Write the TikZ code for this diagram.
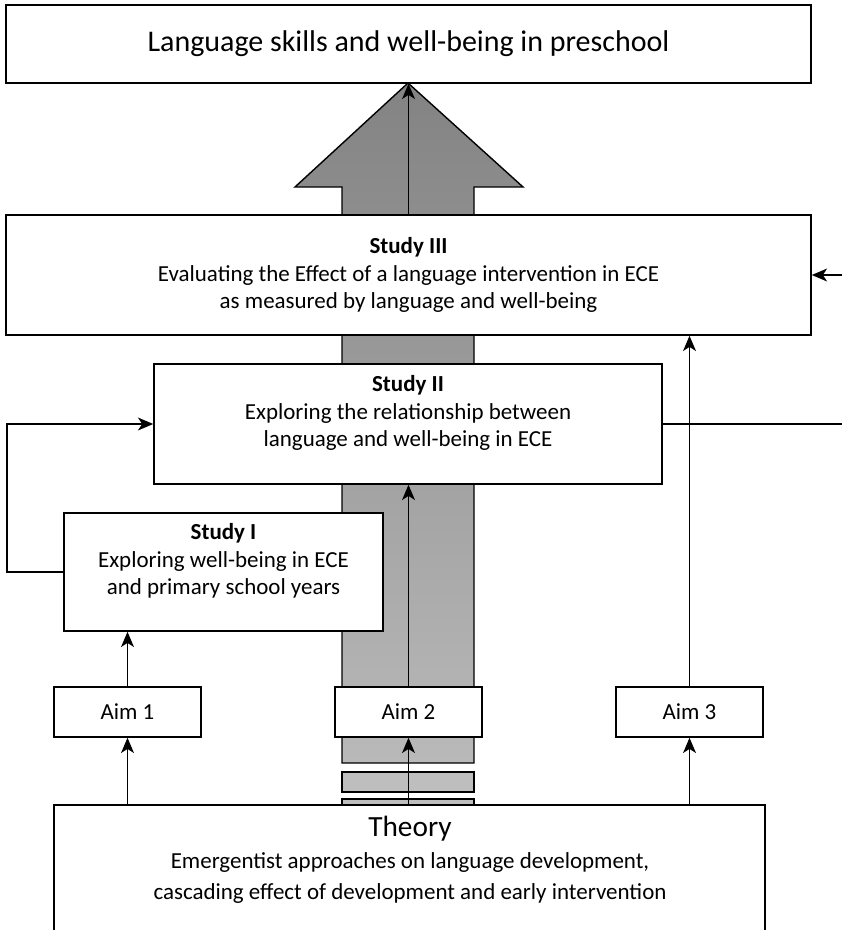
\documentclass[tikz,border=0pt]{standalone}
\usepackage{fontspec}
\setmainfont{Carlito}
\usetikzlibrary{arrows.meta}
\definecolor{headgray}{HTML}{838383}
\definecolor{shaftgray}{HTML}{B9B9B9}
\definecolor{stripegray}{HTML}{BEBEBE}

\begin{document}
\begin{tikzpicture}[x=0.03cm,y=-0.03cm,
            box/.style={draw,fill=white,line width=1.3pt,inner sep=0pt,align=center,font=\fontsize{19.6}{23.5}\selectfont},
            wide/.style={box,minimum width=24.15cm,minimum height=3.6cm},
            aimbox/.style={box,minimum width=4.41cm,minimum height=1.5cm},
            arr/.style={line width=1.3pt,-{Stealth[length=13pt,width=11pt,inset=3.5pt]}},
            plain/.style={line width=1.3pt}]
            \useasboundingbox (0,0) rectangle (842,930);
            \shadedraw[top color=headgray,bottom color=shaftgray,line width=1.2pt] (408,83) -- (523,187) -- (474,187) -- (474,763) -- (342,763) -- (342,187) -- (295,187) -- cycle;
            \draw[fill=stripegray,line width=1.2pt] (342,772) rectangle (474,792);
            \draw[fill=stripegray,line width=1.2pt] (342,799) rectangle (474,830);
            \node[wide,minimum height=2.34cm,font=\fontsize{25.6}{30}\selectfont] (goal) at (408.5,44) {Language skills and well-being in preschool};
            \node[wide] (study3) at (408.5,275) {\textbf{Study III}\\ Evaluating the Effect of a language intervention in ECE\\ as measured by language and well-being};
            \node[box,minimum width=15.24cm,minimum height=3.6cm] (study2) at (408,424) {\textbf{Study II}\\ Exploring the relationship between\\ language and well-being in ECE\\[-0.05cm]};
            \node[box,minimum width=9.57cm,minimum height=3.54cm] (study1) at (223.5,572) {\textbf{Study I}\\ Exploring well-being in ECE\\ and primary school years\\[-0.05cm]};
            \node[aimbox] (aim1) at (127.5,712) {Aim 1};
            \node[aimbox] (aim2) at (408.5,712) {Aim 2};
            \node[aimbox] (aim3) at (689.5,712) {Aim 3};
            \node[box,minimum width=21.33cm,minimum height=5.55cm] (theory) at (409.5,897.5) {};
            \node[align=center,font=\fontsize{19.6}{27}\selectfont] (theorytext) at (410,860) {{\fontsize{25}{30}\selectfont Theory}\\ Emergentist approaches on language development,\\ cascading effect of development and early intervention};
            \coordinate (out2) at (842,424);
            \coordinate (in3) at (842,275);
            \draw[arr] (study3.north) -- (goal.south);
            \draw[arr] (aim1.north) -- (aim1.north |- study1.south);
            \draw[arr] (aim2.north) -- (aim2.north |- study2.south);
            \draw[arr] (aim3.north) -- (aim3.north |- study3.south);
            \draw[arr] (theory.north -| aim1.south) -- (aim1.south);
            \draw[arr] (theory.north -| aim2.south) -- (aim2.south);
            \draw[arr] (theory.north -| aim3.south) -- (aim3.south);
            \draw[arr] (study1.west) -- ++(-56,0) |- (study2.west);
            \draw[plain] (study2.east) -- (out2);
            \draw[arr] (in3) -- (study3.east);
        \end{tikzpicture}
\end{document}
